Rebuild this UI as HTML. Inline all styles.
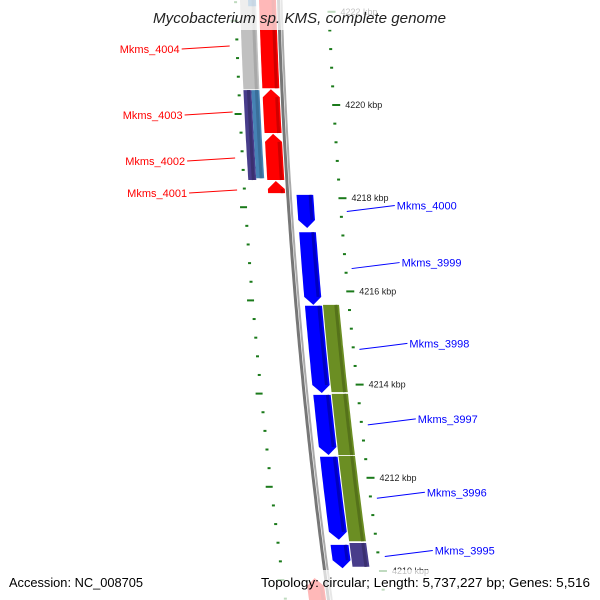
<!DOCTYPE html>
<html><head><meta charset="utf-8"><style>
body{margin:0;background:#fff}
svg{display:block}
text{font-family:"Liberation Sans","DejaVu Sans",sans-serif}
</style></head><body>
<svg id="map" width="600" height="600" viewBox="0 0 600 600" xmlns="http://www.w3.org/2000/svg">
<g id="ticks"></g>
<g id="genes"></g>
<g id="labels"></g>
<rect x="0" y="0" width="600" height="30" fill="#fff" opacity="0.72"/>
<text x="153" y="23" textLength="293" lengthAdjust="spacingAndGlyphs" font-size="14.5" font-style="italic" fill="#222">Mycobacterium sp. KMS, complete genome</text>
<rect x="0" y="570" width="600" height="30" fill="#fff" opacity="0.72"/>
<text x="9" y="587" font-size="13" textLength="134" lengthAdjust="spacingAndGlyphs" fill="#000">Accession: NC_008705</text>
<text x="261" y="587" font-size="13" textLength="329" lengthAdjust="spacingAndGlyphs" fill="#000">Topology: circular; Length: 5,737,227 bp; Genes: 5,516</text>
</svg>
<script>
// data (kbp)
const revGenes=[[4222.6,4220.36],[4220.34,4219.40],[4219.38,4218.39],[4218.37,4218.11],[4209.85,4209.2]];
const revNames=["","Mkms_4004","Mkms_4003","Mkms_4002","Mkms_4001"];
const grayFeat=[[4222.6,4220.34]];
const purpleFeat=[[4220.32,4218.39]];
const steelFeat=[[4220.32,4218.43],[4222.6,4222.12]];
const fwdGenes=[[4218.07,4217.36],[4217.27,4215.71],[4215.69,4213.82],[4213.78,4212.49],[4212.45,4210.67],[4210.56,4210.06]];
const fwdNames=["Mkms_4000","Mkms_3999","Mkms_3998","Mkms_3997","Mkms_3996","Mkms_3995"];
const oliveFeat=[[4215.71,4213.84],[4213.80,4212.49],[4212.47,4210.64]];
const slateFeat=[[4210.60,4210.09]];
const kbpTicks=[4222,4220,4218,4216,4214,4212,4210];
const NS="http://www.w3.org/2000/svg";
function ky(k){return 105+(4220-k)*46.6;}
function xb(y){return 280+0.03*y+8.9e-5*y*y;}
function px(y,r){return xb(y)+r*(r>0?1+0.13*y/600:1);}
function mk(tag,attrs,parent){const e=document.createElementNS(NS,tag);for(const a in attrs)e.setAttribute(a,attrs[a]);parent.appendChild(e);return e;}
const G=document.getElementById('genes'),T=document.getElementById('ticks'),L=document.getElementById('labels');
let p1=[],p2=[];
for(let y=-5;y<=605;y+=5){p1.push(px(y,-1.5).toFixed(1)+','+y);p2.push(px(y,1.5).toFixed(1)+','+y);}
let bb=mk('polyline',{points:p1.join(' '),fill:'none',stroke:'#777','stroke-width':3},G);


let bb2=mk('polyline',{points:p2.join(' '),fill:'none',stroke:'#aaa','stroke-width':2},G);


function shape(k1,k2,r1,r2,arrow,color,dark,name){
  const ya=ky(k1),yb=ky(k2);const pts=[],ah=8;
  const top=arrow==='up'?ya+ah:ya,bot=arrow==='down'?yb-ah:yb;
  const mid=(r1+r2)/2;
  if(arrow==='up')pts.push([px(ya,mid),ya]);
  for(let y=top;y<=bot;y+=4)pts.push([px(y,r2),y]);
  pts.push([px(bot,r2),bot]);
  if(arrow==='down')pts.push([px(yb,mid),yb]);
  for(let y=bot;y>=top;y-=4)pts.push([px(y,r1),y]);
  pts.push([px(top,r1),top]);
  const g=mk('g',{},G);
  
  
  mk('polygon',{points:pts.map(p=>p[0].toFixed(1)+','+p[1].toFixed(1)).join(' '),fill:color},g);
  const sp=[];
  for(let y=top;y<=bot;y+=4)sp.push([px(y,r2-3),y]);sp.push([px(bot,r2-3),bot]);
  mk('polyline',{points:sp.map(p=>p[0].toFixed(1)+','+p[1].toFixed(1)).join(' '),fill:'none',stroke:dark,'stroke-width':3},g);
}
grayFeat.forEach((f,i)=>shape(f[0],f[1],-40,-24,null,'#c0c0c0','#a8a8a8','gray-feature-'+i));
purpleFeat.forEach((f,i)=>shape(f[0],f[1],-40,-32,null,'#483d8b','#3a3070','purple-feature-'+i));
steelFeat.forEach((f,i)=>shape(f[0],f[1],-32,-24,null,'#4682b4','#3a6e99','steelblue-feature-'+i));
revGenes.forEach((f,i)=>shape(f[0],f[1],-21,-4,'up','#ff0000','#d00000','reverse-gene-'+i));
fwdGenes.forEach((f,i)=>shape(f[0],f[1],7,23,'down','#0000ff','#0000c0','forward-gene-'+i));
oliveFeat.forEach((f,i)=>shape(f[0],f[1],24,39,null,'#6b8e23','#55721a','olive-feature-'+i));
slateFeat.forEach((f,i)=>shape(f[0],f[1],24,39,null,'#483d8b','#3a3070','slate-feature-'+i));
for(let k=4222.8;k>=4209.0;k-=0.4){
  const y=ky(k);const major=Math.abs(k-Math.round(k/2)*2)<0.05;
  const x=px(y,47);
  const t=mk('line',{x1:x,y1:y,x2:x+(major?8:3),y2:y,stroke:'#1a7a1a','stroke-width':2},T);
  
  
  const y2=y+9;const x2=px(y2,-43);
  const t2=mk('line',{x1:x2-(major?7:3),y1:y2,x2:x2,y2:y2,stroke:'#1a7a1a','stroke-width':2},T);
  
  
}
kbpTicks.forEach(k=>{const y=ky(k);const t=mk('text',{x:px(y,47)+13,y:y+3,'font-size':9,fill:'#222'},T);
  
  
  t.textContent=k+' kbp';});
const revLabelY=[49,115,161,193];
revNames.forEach((n,i)=>{if(!n)return;
  const ly=revLabelY[i-1];const x2=px(ly,-52);
  const l=mk('line',{x1:x2-48,y1:ly,x2:x2,y2:ly-3,stroke:'#f00','stroke-width':1},L);
  
  
  const t=mk('text',{x:x2-50,y:ly+4,'text-anchor':'end','font-size':11,fill:'#f00'},L);
  
  
  t.textContent=n;});
fwdNames.forEach((n,i)=>{const g=fwdGenes[i];const y=ky((g[0]+g[1])/2);const x1=px(y,54);
  const ly=y-6;
  const l=mk('line',{x1:x1,y1:y,x2:x1+48,y2:ly,stroke:'#00f','stroke-width':1},L);
  
  
  const t=mk('text',{x:x1+50,y:ly+4,'font-size':11,fill:'#00f'},L);
  
  
  t.textContent=n;});
</script>
</body></html>
